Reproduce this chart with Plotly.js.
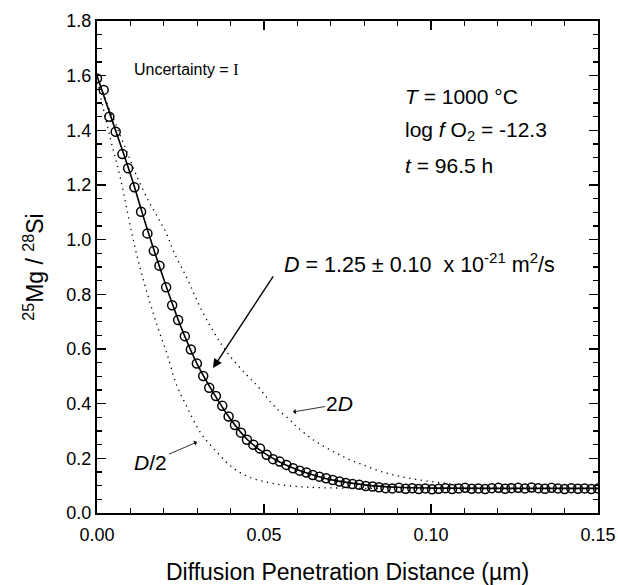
<!DOCTYPE html>
<html>
<head>
<meta charset="utf-8">
<script src="https://cdn.plot.ly/plotly-3.0.1.min.js"></script>
<style>html,body{margin:0;padding:0;background:#fff;}</style>
</head>
<body>
<div id="chart" style="width:618px;height:585px;"></div>
<script>
// Measured data (circles)
const dataX = [0, 0.0020, 0.0037, 0.0056, 0.0076, 0.0093, 0.0112, 0.0132, 0.0151, 0.0170,
  0.0187, 0.0207, 0.0225, 0.0243, 0.0263, 0.0281, 0.0299, 0.0318, 0.0336, 0.0356,
  0.0375, 0.0394, 0.0413, 0.0431, 0.0449, 0.0468, 0.0488, 0.0508, 0.0527, 0.0547,
  0.0567, 0.0587, 0.0607, 0.0627, 0.0646, 0.0666, 0.0686, 0.0706, 0.0726, 0.0745,
  0.0765, 0.0785, 0.0805, 0.0825, 0.0844, 0.0864, 0.0884, 0.0904, 0.0924, 0.0944,
  0.0963, 0.0983, 0.1003, 0.1023, 0.1043, 0.1063, 0.1083, 0.1102, 0.1122, 0.1142,
  0.1162, 0.1182, 0.1202, 0.1222, 0.1241, 0.1261, 0.1281, 0.1301, 0.1321, 0.1341,
  0.1361, 0.1380, 0.1400, 0.1420, 0.1440, 0.1460, 0.1480, 0.1500];
const dataY = [1.590, 1.548, 1.450, 1.395, 1.313, 1.261, 1.192, 1.102, 1.023, 0.959,
  0.905, 0.826, 0.760, 0.706, 0.647, 0.598, 0.547, 0.501, 0.458, 0.428,
  0.392, 0.353, 0.322, 0.294, 0.268, 0.250, 0.236, 0.213, 0.197, 0.188,
  0.176, 0.164, 0.155, 0.148, 0.139, 0.133, 0.127, 0.121, 0.115, 0.110,
  0.106, 0.103, 0.099, 0.097, 0.094, 0.091, 0.090, 0.092, 0.089, 0.091,
  0.088, 0.090, 0.087, 0.089, 0.091, 0.088, 0.090, 0.092, 0.089, 0.090,
  0.088, 0.091, 0.092, 0.089, 0.091, 0.092, 0.090, 0.093, 0.091, 0.089,
  0.092, 0.090, 0.088, 0.091, 0.089, 0.090, 0.088, 0.090];

// Fitted curve (solid)
const fitX = [0, 0.005, 0.010, 0.015, 0.020, 0.025, 0.030, 0.035, 0.040, 0.045,
  0.050, 0.055, 0.060, 0.065, 0.070, 0.080, 0.090, 0.100, 0.120, 0.150];
const fitY = [1.600, 1.420, 1.240, 1.040, 0.855, 0.685, 0.545, 0.437, 0.343, 0.269,
  0.220, 0.185, 0.158, 0.138, 0.122, 0.103, 0.094, 0.091, 0.090, 0.090];

// Curve for 2D (dotted)
const d2X = [0, 0.003, 0.006, 0.009, 0.012, 0.0155, 0.0185, 0.0209, 0.0228, 0.0269,
  0.0308, 0.0348, 0.0388, 0.0448, 0.0478, 0.0523, 0.0548, 0.0573, 0.0598, 0.0648,
  0.0698, 0.0748, 0.0797, 0.0847, 0.0897, 0.0947, 0.100, 0.105, 0.110];
const d2Y = [1.600, 1.500, 1.410, 1.320, 1.230, 1.140, 1.075, 1.020, 0.960, 0.860,
  0.755, 0.665, 0.590, 0.505, 0.468, 0.401, 0.371, 0.346, 0.316, 0.267,
  0.231, 0.200, 0.176, 0.153, 0.137, 0.125, 0.115, 0.108, 0.102];

// Curve for D/2 (dotted)
const dHalfX = [0, 0.001, 0.004, 0.007, 0.0104, 0.0124, 0.0149, 0.0179, 0.0209, 0.0239,
  0.0269, 0.0299, 0.0318, 0.0358, 0.0408, 0.0458, 0.0508, 0.0558, 0.0608, 0.0658,
  0.075, 0.085];
const dHalfY = [1.600, 1.530, 1.370, 1.225, 1.025, 0.920, 0.810, 0.690, 0.584, 0.466,
  0.389, 0.316, 0.280, 0.224, 0.164, 0.130, 0.113, 0.102, 0.096, 0.093,
  0.091, 0.090];

const xTickVals = [0, 0.05, 0.10, 0.15];
const xTickText = ['0.00', '0.05', '0.10', '0.15'];
const yTickVals = [0, 0.2, 0.4, 0.6, 0.8, 1.0, 1.2, 1.4, 1.6, 1.8];
const yTickText = ['0.0', '0.2', '0.4', '0.6', '0.8', '1.0', '1.2', '1.4', '1.6', '1.8'];

const FONT = 'Liberation Sans, Arial, Helvetica, sans-serif';
const it = (s, sz) => '<span style="font-style:italic;font-size:' + sz + 'px">' + s + '</span>';

const traces = [
  {x: dHalfX, y: dHalfY, mode: 'lines', line: {color: '#000', width: 1.3, dash: '1.3px,4.5px', shape: 'spline'}, hoverinfo: 'skip'},
  {x: d2X, y: d2Y, mode: 'lines', line: {color: '#000', width: 1.3, dash: '1.3px,4.5px', shape: 'spline'}, hoverinfo: 'skip'},
  {x: fitX, y: fitY, mode: 'lines', line: {color: '#000', width: 1.6, shape: 'spline'}},
  {x: dataX, y: dataY, mode: 'markers', marker: {symbol: 'circle-open', size: 9, color: '#000', line: {width: 1.5, color: '#000'}}}
];

const layout = {
  width: 618, height: 585,
  margin: {l: 97, r: 20, t: 21, b: 72},
  paper_bgcolor: '#fff', plot_bgcolor: '#fff',
  showlegend: false,
  font: {family: FONT, color: '#000', size: 18},
  xaxis: {
    range: [0, 0.15], tickvals: xTickVals, ticktext: xTickText,
    ticks: 'inside', ticklen: 9, tickwidth: 1.3, tickcolor: '#000',
    minor: {dtick: 0.01, ticks: 'inside', ticklen: 5, tickwidth: 1.2, tickcolor: '#000'},
    showline: true, linewidth: 2, linecolor: '#000', mirror: 'ticks',
    showgrid: false, zeroline: false, ticklabelstandoff: 4,
    tickfont: {size: 18, family: FONT},
    title: {text: 'Diffusion Penetration Distance (µm)', font: {size: 23, family: FONT}, standoff: 20}
  },
  yaxis: {
    range: [0, 1.8], tickvals: yTickVals, ticktext: yTickText,
    ticks: 'inside', ticklen: 9, tickwidth: 1.3, tickcolor: '#000',
    minor: {dtick: 0.05, ticks: 'inside', ticklen: 5, tickwidth: 1.2, tickcolor: '#000'},
    showline: true, linewidth: 2, linecolor: '#000', mirror: 'ticks',
    showgrid: false, zeroline: false,
    tickfont: {size: 18, family: FONT},
    title: {text: '<sup>25</sup>Mg / <sup>28</sup>Si', font: {size: 23, family: FONT}, standoff: 16}
  },
  annotations: [
    {xref: 'paper', yref: 'paper', x: 0.0699, y: 0.9024, xanchor: 'left', yanchor: 'middle', showarrow: false,
     text: 'Uncertainty = <span style="font-family:Liberation Serif, Times New Roman, serif;font-size:16px">I</span>', font: {size: 16, family: FONT}},
    {xref: 'paper', yref: 'paper', x: 0.6108, y: 0.8466, xanchor: 'left', yanchor: 'middle', showarrow: false,
     text: it('T', 21) + ' = 1000 °C', font: {size: 21, family: FONT}},
    {xref: 'paper', yref: 'paper', x: 0.6108, y: 0.7764, xanchor: 'left', yanchor: 'middle', showarrow: false,
     text: 'log ' + it('f', 21) + ' O<sub>2</sub> = -12.3', font: {size: 21, family: FONT}},
    {xref: 'paper', yref: 'paper', x: 0.6108, y: 0.7073, xanchor: 'left', yanchor: 'middle', showarrow: false,
     text: it('t', 21) + ' = 96.5 h', font: {size: 21, family: FONT}},
    // D label with the main arrow (tail near the label, head on the fitted curve)
    {xref: 'paper', yref: 'paper', x: 0.2315, y: 0.2947, showarrow: true, ax: 69, ay: -105,
     xanchor: 'left', yanchor: 'middle', startstandoff: 16, standoff: 0,
     arrowhead: 2, arrowsize: 1.3, arrowwidth: 1.4, arrowcolor: '#000',
     text: it('D', 21.5) + ' = 1.25 ± 0.10\u00a0 x 10<sup>-21</sup> m<sup>2</sup>/s', font: {size: 21.5, family: FONT}},
    // D/2 label with arrow
    {xref: 'paper', yref: 'paper', x: 0.1996, y: 0.1443, showarrow: true, ax: -46, ay: 20, standoff: 0,
     arrowhead: 1, arrowsize: 1.2, arrowwidth: 0.8, arrowcolor: '#000',
     text: it('D', 21) + '/2', font: {size: 21, family: FONT}},
    // 2D label with arrow
    {xref: 'paper', yref: 'paper', x: 0.3912, y: 0.2053, showarrow: true, ax: 47, ay: -8, standoff: 0,
     arrowhead: 1, arrowsize: 1.2, arrowwidth: 0.8, arrowcolor: '#000',
     text: '2' + it('D', 21), font: {size: 21, family: FONT}}
  ]
};

Plotly.newPlot('chart', traces, layout, {displayModeBar: false, staticPlot: true});
</script>
</body>
</html>
